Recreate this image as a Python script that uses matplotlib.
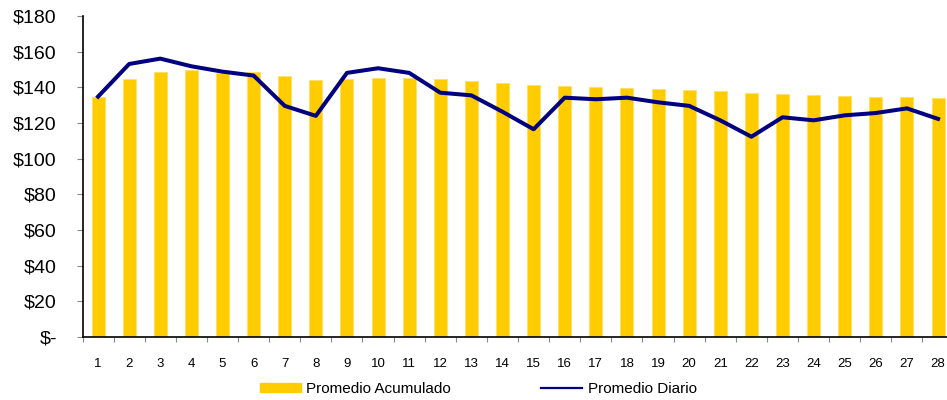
import matplotlib
matplotlib.use("Agg")
import matplotlib.pyplot as plt
from matplotlib.patches import Patch
from matplotlib.lines import Line2D
from matplotlib.ticker import FixedLocator, FuncFormatter

plt.rcParams['font.family'] = ['Liberation Sans', 'DejaVu Sans']

days = list(range(1, 29))
promedio_acumulado = [134.8, 144.7, 148.8, 149.6, 148.2, 148.8, 146.4, 144.1, 144.5, 145.3,
                      145.4, 144.7, 143.8, 142.6, 141.2, 140.8, 140.2, 139.7, 139.1, 138.7,
                      138.0, 136.8, 136.3, 135.7, 135.2, 134.6, 134.6, 134.0]
promedio_diario = [134.8, 153.1, 156.1, 151.8, 148.8, 146.6, 129.6, 124.0, 148.1, 150.7,
                   148.1, 137.0, 135.5, 126.3, 116.5, 134.2, 133.3, 134.2, 131.6, 129.6,
                   121.5, 112.3, 123.2, 121.5, 124.3, 125.6, 128.2, 122.3]
y_ticks = [0, 20, 40, 60, 80, 100, 120, 140, 160, 180]
legend_labels = ["Promedio Acumulado", "Promedio Diario"]

bar_color = "#FFCC00"
line_color = "#000080"

fig = plt.figure(figsize=(9.47, 4.0), dpi=100)
ax = fig.add_axes([82.5 / 947, 63 / 400, 871.1 / 947, 321 / 400])

ax.bar(days, promedio_acumulado, width=0.42, color=bar_color, edgecolor="#FFE066", linewidth=0.6, zorder=2)
ax.plot(days, promedio_diario, color=line_color, linewidth=2.9, solid_joinstyle='round', zorder=3)

ax.set_xlim(0.5, 28.5)
ax.set_ylim(0, 180)

ax.set_yticks(y_ticks)
ax.yaxis.set_major_formatter(FuncFormatter(lambda v, p: "$-" if v == 0 else f"${int(v)}"))
ax.tick_params(axis='y', direction='out', length=4.5, width=0.8, color='#888888', pad=14, labelsize=14)

ax.set_xticks(days)
ax.set_xticklabels([str(d) for d in days])
ax.xaxis.set_minor_locator(FixedLocator([d + 0.5 for d in range(0, 29)]))
ax.tick_params(axis='x', which='major', length=0, pad=15, labelsize=9.5)
ax.tick_params(axis='x', which='minor', direction='out', length=3.5, width=0.8, color='#888888')

for s in ['top', 'right']:
    ax.spines[s].set_visible(False)
ax.spines['left'].set_linewidth(1.2)
ax.spines['bottom'].set_linewidth(1.2)

handles = [Patch(facecolor=bar_color, edgecolor=bar_color),
           Line2D([0], [0], color=line_color, linewidth=1.6)]
fig.legend(handles, legend_labels, loc='center', bbox_to_anchor=(0.505, 0.0275), ncol=2,
           frameon=False, fontsize=11, handlelength=2.7, handletextpad=0.35,
           columnspacing=5.9, handleheight=0.5, borderpad=0, borderaxespad=0)

fig.savefig("out.png", dpi=100)
